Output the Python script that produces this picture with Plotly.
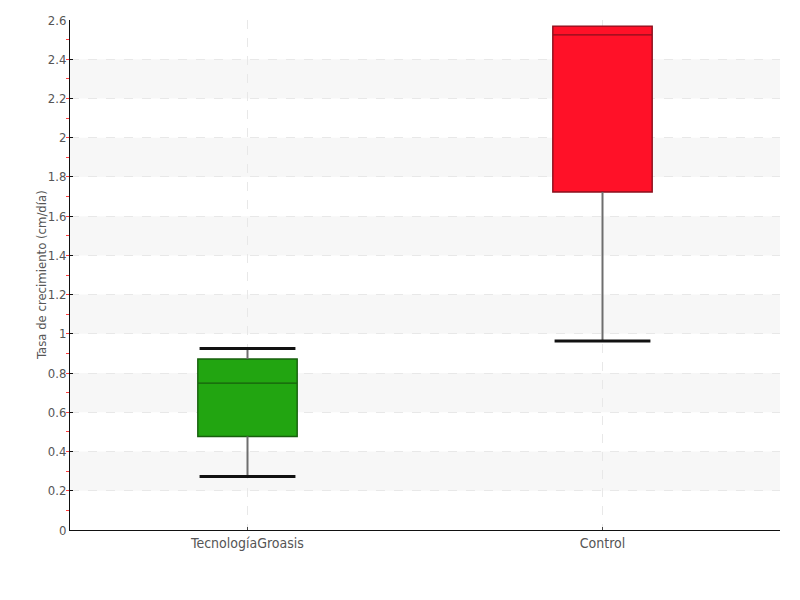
import plotly.graph_objects as go

categories = ["TecnologíaGroasis", "Control"]
lower = [0.273, 0.964]
q1 = [0.477, 1.723]
median = [0.749, 2.524]
q3 = [0.872, 2.569]
upper = [0.925, 2.569]
fills = ["#22a511", "#ff1128"]
edges = ["#175f0d", "#8a0f1c"]
y_ticks = [0, 0.2, 0.4, 0.6, 0.8, 1, 1.2, 1.4, 1.6, 1.8, 2, 2.2, 2.4, 2.6]
y_title = "Tasa de crecimiento (cm/día)"

FONT = "Liberation Sans Narrow, DejaVu Sans Condensed, Roboto Condensed, sans-serif"
fig = go.Figure()

cap_half = 0.135
for i, cat in enumerate(categories):
    fig.add_trace(go.Scatter(x=[i, i], y=[lower[i], q1[i]], mode="lines",
                             line=dict(color="#6e6e6e", width=2), showlegend=False, hoverinfo="skip"))
    fig.add_trace(go.Scatter(x=[i, i], y=[q3[i], upper[i]], mode="lines",
                             line=dict(color="#6e6e6e", width=2), showlegend=False, hoverinfo="skip"))
    fig.add_trace(go.Box(x=[i], q1=[q1[i]], median=[median[i]], q3=[q3[i]],
                         lowerfence=[q1[i]], upperfence=[q3[i]], width=0.28,
                         fillcolor=fills[i], line=dict(color=edges[i], width=1.4),
                         whiskerwidth=0, showlegend=False, name=cat))
    fig.add_trace(go.Scatter(x=[i - cap_half, i + cap_half], y=[lower[i], lower[i]], mode="lines",
                             line=dict(color="#111111", width=3), showlegend=False, hoverinfo="skip"))
    if upper[i] > q3[i]:
        fig.add_trace(go.Scatter(x=[i - cap_half, i + cap_half], y=[upper[i], upper[i]], mode="lines",
                                 line=dict(color="#111111", width=3), showlegend=False, hoverinfo="skip"))

shapes = []
for k in range(1, len(y_ticks) - 1, 2):
    shapes.append(dict(type="rect", xref="paper", x0=0, x1=1, yref="y",
                       y0=y_ticks[k], y1=y_ticks[k + 1], fillcolor="#f7f7f7",
                       line=dict(width=0), layer="below"))

fig.update_layout(
    width=800, height=600,
    margin=dict(l=62, r=28, t=12, b=78, autoexpand=False),
    plot_bgcolor="white", paper_bgcolor="white",
    font=dict(family=FONT, size=14, color="#555555"),
    shapes=shapes,
    annotations=[dict(text=y_title, xref="paper", yref="paper", x=-29 / 710, y=0.5,
                      xanchor="center", yanchor="middle", textangle=-90, showarrow=False,
                      font=dict(size=13, color="#555555"))],
    xaxis=dict(range=[-0.5, 1.5], tickvals=list(range(len(categories))), ticktext=categories,
               automargin=False,
               showline=True, linecolor="#111111", linewidth=1,
               ticks="inside", ticklen=3, tickcolor="#444444",
               showgrid=True, gridcolor="#e8e8e8", griddash="dash", gridwidth=1,
               zeroline=False, tickfont=dict(size=14, color="#555555")),
    yaxis=dict(range=[0, 2.6], tickvals=y_ticks, automargin=False,
               showline=True, linecolor="#111111", linewidth=1,
               ticks="inside", ticklen=3, tickcolor="#111111",
               minor=dict(ticks="outside", ticklen=3, tickcolor="#ff4040", dtick=0.1, showgrid=False),
               showgrid=True, gridcolor="#e8e8e8", griddash="dash", gridwidth=1,
               zeroline=False, tickfont=dict(size=13, color="#555555")),
)

fig.write_html("out.html")
